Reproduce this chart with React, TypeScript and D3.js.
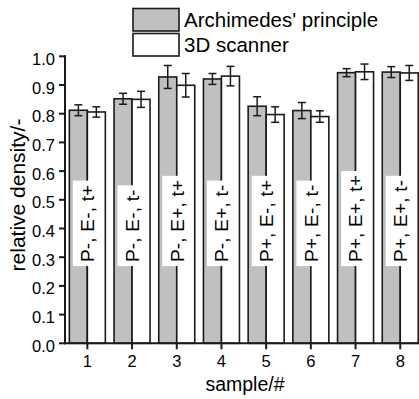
import React, { useRef, useEffect } from "react";
import * as d3 from "d3";

const samples = [1, 2, 3, 4, 5, 6, 7, 8];
const conditions = [
  "P-, E-, t+",
  "P-, E-, t-",
  "P-, E+, t+",
  "P-, E+, t-",
  "P+, E-, t+",
  "P+, E-, t-",
  "P+, E+, t+",
  "P+, E+, t-",
];
const archimedes = [0.812, 0.852, 0.928, 0.921, 0.826, 0.811, 0.943, 0.945];
const archimedesErr = [0.019, 0.019, 0.04, 0.019, 0.033, 0.028, 0.014, 0.019];
const scanner = [0.806, 0.85, 0.899, 0.931, 0.797, 0.79, 0.946, 0.942];
const scannerErr = [0.018, 0.028, 0.041, 0.034, 0.027, 0.02, 0.027, 0.026];
const yTicks = [0, 0.1, 0.2, 0.3, 0.4, 0.5, 0.6, 0.7, 0.8, 0.9, 1.0];
const seriesNames = ["Archimedes' principle", "3D scanner"];

const W = 419;
const H = 399;
const FONT = "'Liberation Sans', Arial, sans-serif";
const GREY = "#c0c0c0";
const INK = "#1a1a1a";

export default function App() {
  const svgRef = useRef<SVGSVGElement | null>(null);

  useEffect(() => {
    document.body.style.margin = "0";
    if (!svgRef.current) return;
    const svg = d3.select(svgRef.current);
    svg.selectAll("*").remove();

    const x = d3.scaleLinear().domain([0.5, 8.5]).range([65, 65 + 8 * 44.7]);
    const y = d3.scaleLinear().domain([0, 1]).range([343.3, 56.3]);
    const barW = 18;

    const rows = samples.map((s, i) => ({
      s,
      label: conditions[i],
      a: archimedes[i],
      ae: archimedesErr[i],
      b: scanner[i],
      be: scannerErr[i],
    }));

    // bars
    const g = svg.append("g");
    g.selectAll(".bar-a")
      .data(rows)
      .enter()
      .append("rect")
      .attr("x", (d) => x(d.s) - barW)
      .attr("y", (d) => y(d.a))
      .attr("width", barW)
      .attr("height", (d) => y(0) - y(d.a))
      .attr("fill", GREY)
      .attr("stroke", INK)
      .attr("stroke-width", 1.6);

    g.selectAll(".bar-b")
      .data(rows)
      .enter()
      .append("rect")
      .attr("x", (d) => x(d.s))
      .attr("y", (d) => y(d.b))
      .attr("width", barW)
      .attr("height", (d) => y(0) - y(d.b))
      .attr("fill", "#ffffff")
      .attr("stroke", INK)
      .attr("stroke-width", 1.6);

    // error bars
    const errs = rows.flatMap((d) => [
      { cx: x(d.s) - barW / 2, v: d.a, e: d.ae },
      { cx: x(d.s) + barW / 2, v: d.b, e: d.be },
    ]);
    const eg = svg.append("g").attr("stroke", INK).attr("stroke-width", 1.5);
    errs.forEach((d) => {
      eg.append("line")
        .attr("x1", d.cx).attr("x2", d.cx)
        .attr("y1", y(d.v + d.e)).attr("y2", y(d.v - d.e));
      [d.v + d.e, d.v - d.e].forEach((v) => {
        eg.append("line")
          .attr("x1", d.cx - 4).attr("x2", d.cx + 4)
          .attr("y1", y(v)).attr("y2", y(v));
      });
    });

    // condition labels in white boxes
    const labelBase = y(0.283);
    rows.forEach((d) => {
      const cx = x(d.s);
      const box = svg.append("rect").attr("fill", "#ffffff");
      const t = svg
        .append("text")
        .attr("transform", `translate(${cx + 6.8},${labelBase}) rotate(-90)`)
        .attr("font-family", FONT)
        .attr("font-size", "19px")
        .attr("letter-spacing", "0.2px")
        .attr("fill", "#000")
        .text(d.label);
      const len = (t.node() as SVGTextElement).getComputedTextLength();
      box
        .attr("x", cx - 14.5)
        .attr("width", 29)
        .attr("y", labelBase - len - 4)
        .attr("height", len + 8);
    });

    // axes
    const ax = svg.append("g").attr("stroke", INK).attr("stroke-width", 2).attr("fill", "none");
    ax.append("line").attr("x1", x(0.5)).attr("x2", x(0.5)).attr("y1", y(1) - 1).attr("y2", y(0) + 1);
    ax.append("line").attr("x1", x(0.5) - 1).attr("x2", W + 10).attr("y1", y(0)).attr("y2", y(0));
    yTicks.forEach((v) => {
      ax.append("line").attr("x1", x(0.5) - 6).attr("x2", x(0.5)).attr("y1", y(v)).attr("y2", y(v));
    });
    samples.forEach((s) => {
      ax.append("line").attr("x1", x(s)).attr("x2", x(s)).attr("y1", y(0)).attr("y2", y(0) + 6);
    });

    svg.selectAll(".ytick")
      .data(yTicks)
      .enter()
      .append("text")
      .attr("x", x(0.5) - 10)
      .attr("y", (v) => y(v) + 8.5)
      .attr("text-anchor", "end")
      .attr("font-family", FONT)
      .attr("font-size", "16.5px")
      .attr("fill", "#000")
      .text((v) => d3.format(".1f")(v));

    svg.selectAll(".xtick")
      .data(samples)
      .enter()
      .append("text")
      .attr("x", (s) => x(s))
      .attr("y", 367)
      .attr("text-anchor", "middle")
      .attr("font-family", FONT)
      .attr("font-size", "16.5px")
      .attr("fill", "#000")
      .text((s) => String(s));

    svg.append("text")
      .attr("x", 245)
      .attr("y", 391)
      .attr("text-anchor", "middle")
      .attr("font-family", FONT)
      .attr("font-size", "19.5px")
      .attr("fill", "#000")
      .text("sample/#");

    svg.append("text")
      .attr("transform", `translate(25,195) rotate(-90)`)
      .attr("text-anchor", "middle")
      .attr("font-family", FONT)
      .attr("font-size", "21px")
      .attr("fill", "#000")
      .text("relative density/-");

    // legend
    const lg = svg.append("g");
    [GREY, "#ffffff"].forEach((c, i) => {
      lg.append("rect")
        .attr("x", 133)
        .attr("y", 8.5 + i * 25)
        .attr("width", 46)
        .attr("height", 22.5)
        .attr("fill", c)
        .attr("stroke", INK)
        .attr("stroke-width", 1.6);
      lg.append("text")
        .attr("x", 184)
        .attr("y", 26.5 + i * 25)
        .attr("font-family", FONT)
        .attr("font-size", "20.5px")
        .attr("fill", "#000")
        .text(seriesNames[i]);
    });
  }, []);

  return (
    <svg
      ref={svgRef}
      width={W}
      height={H}
      style={{ display: "block", background: "#fff" }}
    ></svg>
  );
}
